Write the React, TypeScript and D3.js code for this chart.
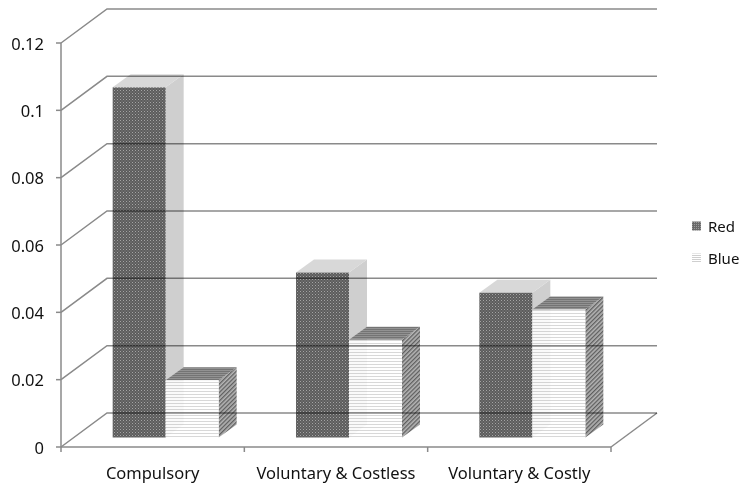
import React from "react";
import * as d3 from "d3";

const categories = ["Compulsory", "Voluntary & Costless", "Voluntary & Costly"];
const seriesNames = ["Red", "Blue"];
const redValues = [0.104, 0.049, 0.043];
const blueValues = [0.017, 0.029, 0.038];
const yTicks = [0, 0.02, 0.04, 0.06, 0.08, 0.1, 0.12];
const yTickLabels = ["0", "0.02", "0.04", "0.06", "0.08", "0.1", "0.12"];

const W = 740;
const H = 484;
const FONT = "'Noto Sans', 'Open Sans', sans-serif";

// plot frame (front plane) and depth offset of the back wall
const X0 = 61;
const X1 = 611;
const Y0 = 447;
const Y1 = 43;
const DEPTH_X = 46;
const DEPTH_Y = -34;
// bars sit inside the depth: front face offset and bar thickness
const BAR_FRONT_X = 13;
const BAR_FRONT_Y = -9.5;
const BAR_DEPTH_X = 18;
const BAR_DEPTH_Y = -13;

const GRID = "#8a8a8a";
const TEXT = "#111";

type Face = { front: string; side: string; top: string; frontOpacity: number };
const faces: Face[] = [
  { front: "url(#redFront)", side: "#cfcfcf", top: "#d8d8d8", frontOpacity: 1 },
  { front: "url(#blueFront)", side: "url(#blueSide)", top: "url(#blueTop)", frontOpacity: 0.9 },
];

export default function App() {
  const y = d3.scaleLinear().domain([0, 0.12]).range([Y0, Y1]);
  const x = d3.scaleBand<string>().domain(categories).range([X0, X1]).paddingInner(0).paddingOuter(0);
  const groupWidth = 106;
  const series = [redValues, blueValues];

  const poly = (pts: [number, number][]) => pts.map((p) => p.join(",")).join(" ");

  const bars: React.ReactNode[] = [];
  categories.forEach((cat, ci) => {
    const cx = (x(cat) as number) + x.bandwidth() / 2;
    const inner = d3
      .scaleBand<string>()
      .domain(seriesNames)
      .range([cx - groupWidth / 2, cx + groupWidth / 2]);
    seriesNames.forEach((s, si) => {
      const v = series[si][ci];
      const f = faces[si];
      const l = (inner(s) as number) + BAR_FRONT_X;
      const r = l + inner.bandwidth();
      const b = y(0) + BAR_FRONT_Y;
      const t = y(v) + BAR_FRONT_Y;
      const dx = BAR_DEPTH_X;
      const dy = BAR_DEPTH_Y;
      bars.push(
        <g key={`${cat}-${s}`}>
          <polygon
            points={poly([[r, b], [r + dx, b + dy], [r + dx, t + dy], [r, t]])}
            fill={f.side}
          />
          <polygon
            points={poly([[l, t], [r, t], [r + dx, t + dy], [l + dx, t + dy]])}
            fill={f.top}
          />
          <rect x={l} y={t} width={r - l} height={b - t} fill={f.front} opacity={f.frontOpacity} />
        </g>
      );
    });
  });

  const gridLines = yTicks.map((tv) => {
    const yy = y(tv);
    return (
      <polyline
        key={`g${tv}`}
        points={poly([[X0, yy], [X0 + DEPTH_X, yy + DEPTH_Y], [X1 + DEPTH_X, yy + DEPTH_Y]])}
        fill="none"
        stroke={GRID}
        strokeWidth={1.5}
        style={{ mixBlendMode: "multiply" }}
      />
    );
  });

  return (
    <svg
      width={W}
      height={H}
      viewBox={`0 0 ${W} ${H}`}
      style={{ position: "fixed", left: 0, top: 0, background: "#fff" }}
    >
      <defs>
        <pattern id="redFront" width="3" height="3" patternUnits="userSpaceOnUse">
          <rect width="3" height="3" fill="#5c5c5c" />
          <rect x="0" y="0" width="1" height="1" fill="#a4a4a4" />
          <rect x="1.5" y="1.5" width="1" height="1" fill="#8a8a8a" />
        </pattern>
        <pattern id="blueFront" width="4" height="3" patternUnits="userSpaceOnUse">
          <rect width="4" height="3" fill="#ffffff" />
          <rect x="0" y="1" width="4" height="1" fill="#d4d4d4" />
        </pattern>
        <pattern id="blueTop" width="4" height="2" patternUnits="userSpaceOnUse">
          <rect width="4" height="2" fill="#929292" />
          <rect x="0" y="1" width="4" height="1" fill="#747474" />
        </pattern>
        <pattern
          id="blueSide"
          width="3"
          height="3"
          patternUnits="userSpaceOnUse"
          patternTransform="rotate(45)"
        >
          <rect width="3" height="3" fill="#b4b4b4" />
          <rect x="0" y="0" width="1.3" height="3" fill="#5e5e5e" />
        </pattern>
        <pattern id="legendRed" width="2" height="2" patternUnits="userSpaceOnUse">
          <rect width="2" height="2" fill="#6a6a6a" />
          <rect width="1" height="1" fill="#9c9c9c" />
        </pattern>
        <pattern id="legendBlue" width="2" height="2" patternUnits="userSpaceOnUse">
          <rect width="2" height="2" fill="#ffffff" />
          <rect y="1" width="2" height="1" fill="#cfcfcf" />
        </pattern>
      </defs>

      {/* floor outline */}
      <polyline
        points={poly([[X1, Y0], [X1 + DEPTH_X, Y0 + DEPTH_Y]])}
        fill="none"
        stroke={GRID}
        strokeWidth={1.5}
      />

      {bars}

      {gridLines}

      {/* value axis */}
      <line x1={X0} y1={Y1} x2={X0} y2={Y0} stroke={GRID} strokeWidth={1.5} />
      {yTicks.map((tv, i) => (
        <g key={`t${tv}`}>
          <line x1={X0 - 5} x2={X0} y1={y(tv)} y2={y(tv)} stroke={GRID} strokeWidth={1.5} />
          <text
            x={44}
            y={y(tv)}
            textAnchor="end"
            dominantBaseline="central"
            fontFamily={FONT}
            fontSize={16.5}
            fill={TEXT}
          >
            {yTickLabels[i]}
          </text>
        </g>
      ))}

      {/* category axis */}
      <line x1={X0} y1={Y0} x2={X1} y2={Y0} stroke={GRID} strokeWidth={1.5} />
      {[...categories.map((c) => x(c) as number), X1].map((tx, i) => (
        <line key={`ct${i}`} x1={tx} x2={tx} y1={Y0} y2={Y0 + 5} stroke={GRID} strokeWidth={1.5} />
      ))}
      {categories.map((c) => (
        <text
          key={`cl${c}`}
          x={(x(c) as number) + x.bandwidth() / 2}
          y={472}
          textAnchor="middle"
          dominantBaseline="central"
          fontFamily={FONT}
          fontSize={16.5}
          fill={TEXT}
        >
          {c}
        </text>
      ))}

      {/* legend */}
      {seriesNames.map((s, i) => (
        <g key={`lg${s}`} transform={`translate(692, ${226 + i * 32})`}>
          <rect x={0} y={-4.5} width={9} height={9} fill={i === 0 ? "url(#legendRed)" : "url(#legendBlue)"} />
          <text
            x={16}
            y={0}
            dominantBaseline="central"
            fontFamily={FONT}
            fontSize={15}
            fill={TEXT}
          >
            {s}
          </text>
        </g>
      ))}
    </svg>
  );
}
